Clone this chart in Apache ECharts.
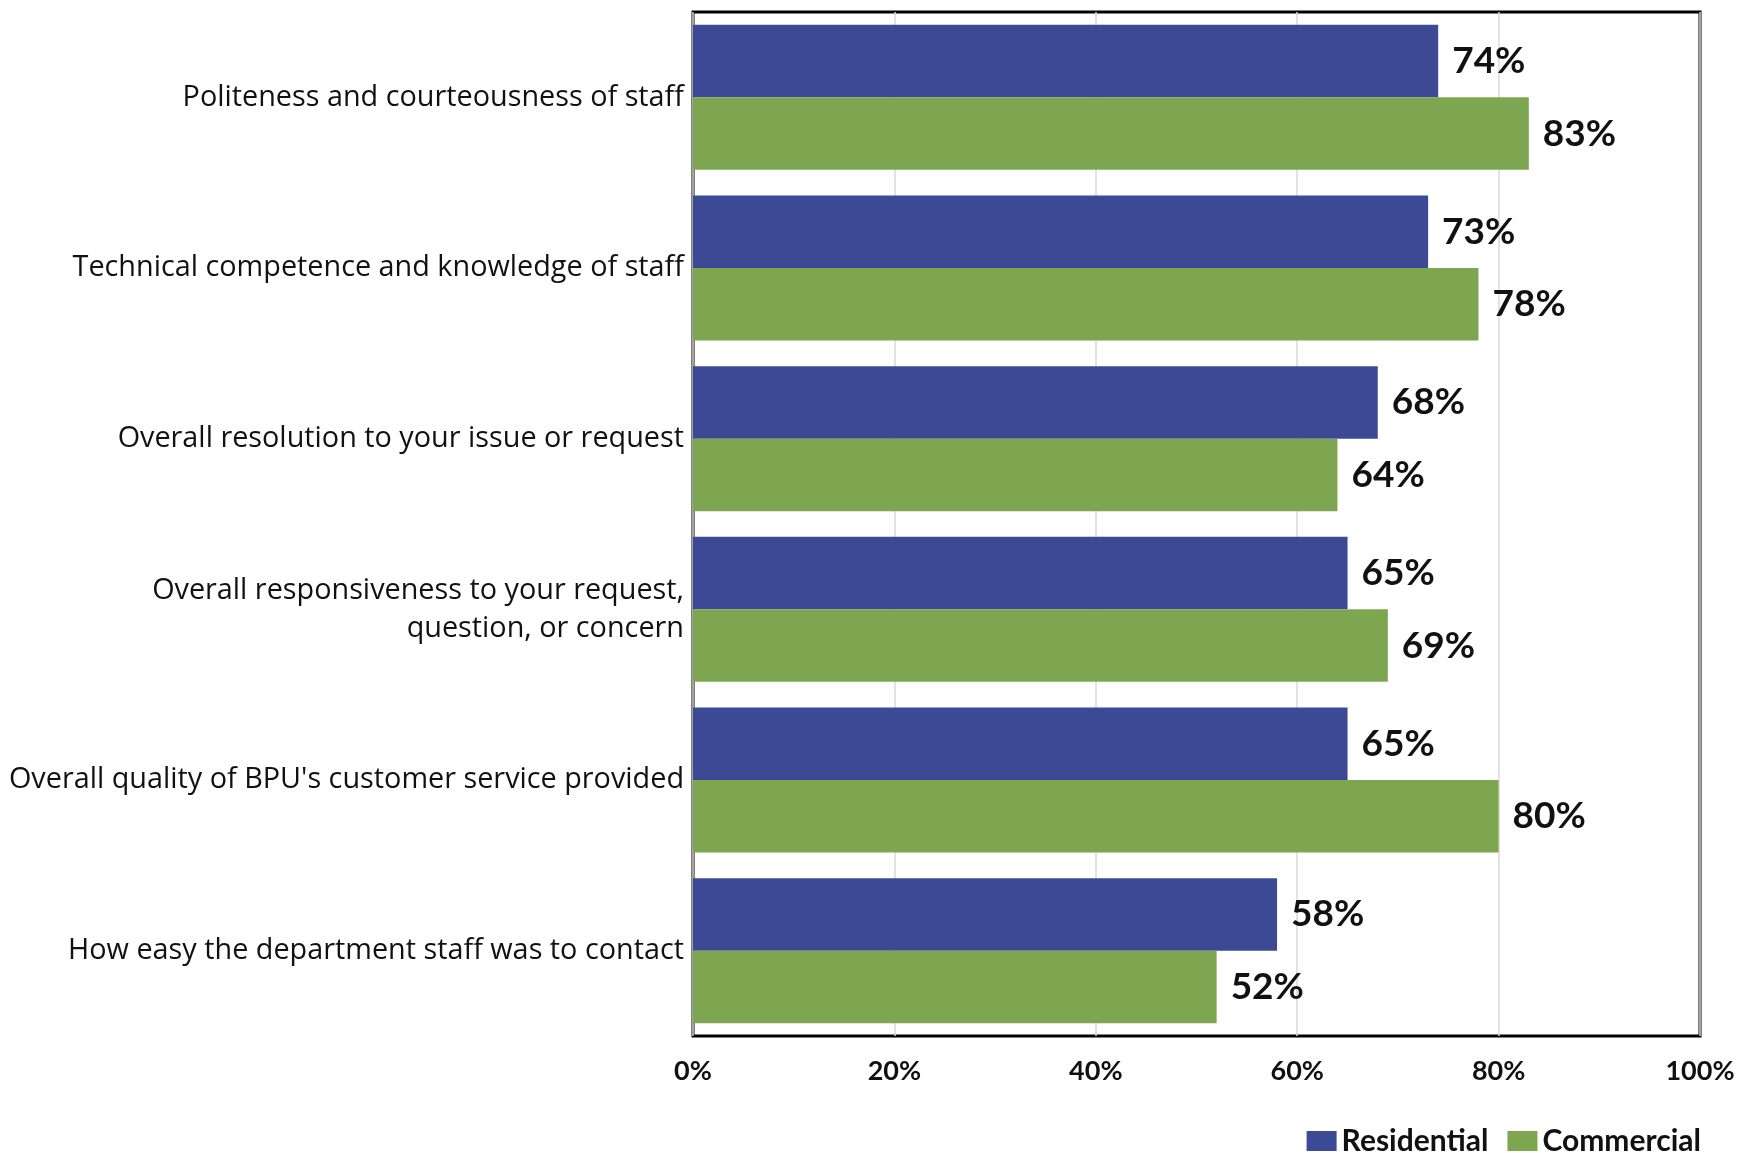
<!DOCTYPE html>
<html>
<head>
<meta charset="utf-8">
<script src="https://cdn.jsdelivr.net/npm/echarts@6/dist/echarts.min.js"></script>
<style>
  html, body { margin: 0; padding: 0; background: #ffffff; }
  #chart { width: 1740px; height: 1153px; }
</style>
</head>
<body>
<div id="chart"></div>
<script>
// Satisfaction ratings by customer segment
const categories = [
  "Politeness and courteousness of staff",
  "Technical competence and knowledge of staff",
  "Overall resolution to your issue or request",
  "Overall responsiveness to your request,\nquestion, or concern",
  "Overall quality of BPU's customer service provided",
  "How easy the department staff was to contact"
];
const residential = [74, 73, 68, 65, 65, 58];
const commercial = [83, 78, 64, 69, 80, 52];
const seriesNames = ["Residential", "Commercial"];
const xTicks = [0, 20, 40, 60, 80, 100];

const FONT = "Lato, 'Noto Sans', sans-serif";
const LABEL_FONT = "'Open Sans', Lato, sans-serif";
const BLUE = "#3C4A96";
const GREEN = "#7EA651";

const valueLabel = {
  show: true,
  position: "right",
  distance: 14,
  formatter: p => p.value + "%",
  fontFamily: FONT,
  fontWeight: "bold",
  fontSize: 37,
  color: "#111111",
  padding: [4, 0, 0, 0]
};

const chart = echarts.init(document.getElementById("chart"), null, { renderer: "canvas" });
chart.setOption({
  animation: false,
  backgroundColor: "#ffffff",
  grid: {
    left: 693, right: 40, top: 12, bottom: 117,
    show: true, borderColor: "#000000", borderWidth: 3, backgroundColor: "transparent"
  },
  legend: {
    data: seriesNames,
    right: 34,
    top: 1121,
    itemWidth: 30,
    itemHeight: 20,
    itemGap: 19,
    icon: "rect",
    textStyle: { fontFamily: FONT, fontWeight: "bold", fontSize: 30, color: "#111111" }
  },
  xAxis: {
    type: "value",
    min: xTicks[0],
    max: xTicks[xTicks.length - 1],
    interval: 20,
    axisLine: { show: false },
    axisTick: { show: false },
    splitLine: { show: true, lineStyle: { color: "#D9D9D9", width: 1.5 } },
    axisLabel: {
      formatter: v => v + "%",
      fontFamily: FONT, fontWeight: "bold", fontSize: 27, color: "#111111",
      margin: 22
    }
  },
  yAxis: {
    type: "category",
    data: categories,
    inverse: true,
    axisLine: { show: false },
    axisTick: { show: false },
    splitLine: { show: false },
    axisLabel: {
      fontFamily: LABEL_FONT, fontSize: 28.8, color: "#111111",
      margin: 9, lineHeight: 38, align: "right", padding: [10, 0, 0, 0]
    }
  },
  series: [
    {
      name: seriesNames[0], type: "bar", data: residential,
      itemStyle: { color: BLUE },
      barGap: "0%", barCategoryGap: "15%",
      label: valueLabel
    },
    {
      name: seriesNames[1], type: "bar", data: commercial,
      itemStyle: { color: GREEN },
      barGap: "0%", barCategoryGap: "15%",
      label: valueLabel
    }
  ]
});
</script>
</body>
</html>
